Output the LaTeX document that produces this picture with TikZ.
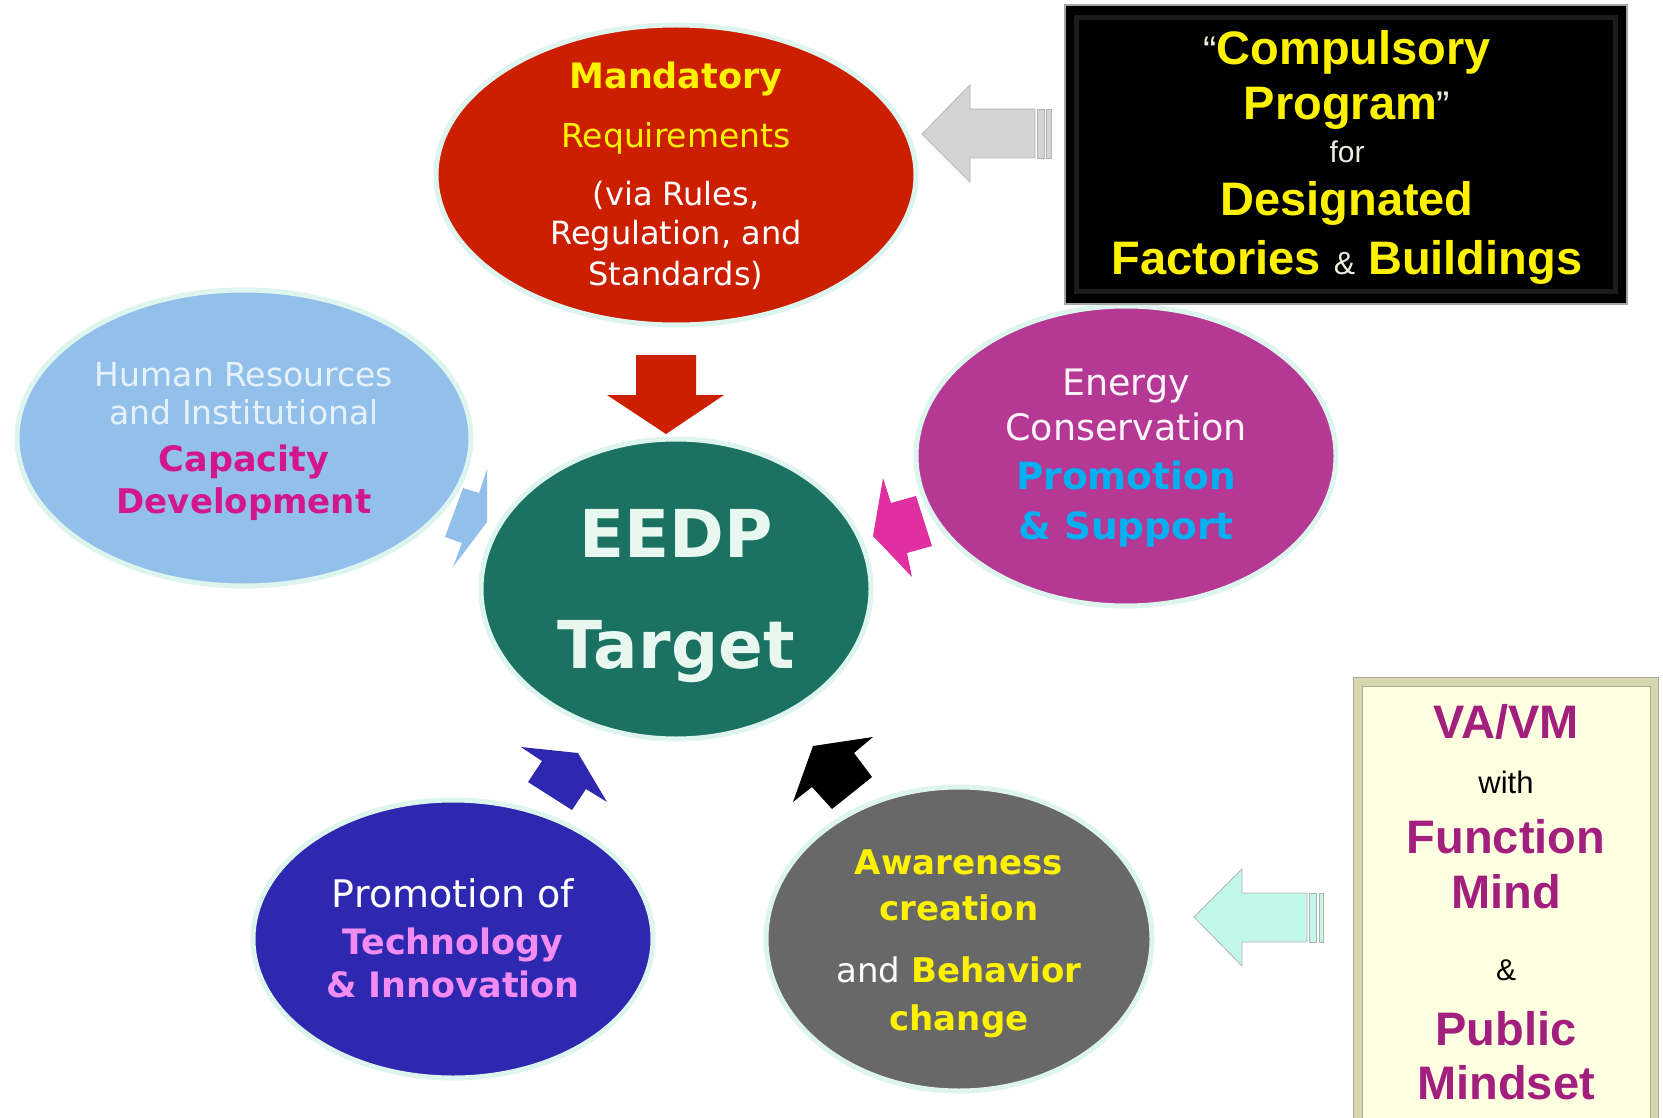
\documentclass[tikz,border=0pt]{standalone}
\usepackage{fontspec}
\setmainfont{DejaVu Sans}
\newfontfamily\arialfont{Liberation Sans}
\usetikzlibrary{shapes.geometric}

\definecolor{redfill}{HTML}{CC1F00}
\definecolor{tealfill}{HTML}{1C7262}
\definecolor{skyfill}{HTML}{92C0EA}
\definecolor{plumfill}{HTML}{B43894}
\definecolor{indigofill}{HTML}{2E28B0}
\definecolor{grayfill}{HTML}{686868}
\definecolor{mint}{HTML}{DDF5EE}
\definecolor{capcol}{HTML}{D4168C}
\definecolor{supcol}{HTML}{00B0F0}
\definecolor{techcol}{HTML}{F28CF2}
\definecolor{vacol}{HTML}{A21F7E}
\definecolor{cream}{HTML}{FEFEE0}
\definecolor{creamframe}{HTML}{D8D7B0}
\definecolor{arrowgray}{HTML}{D4D4D4}
\definecolor{arrowaqua}{HTML}{C2F8EA}
\definecolor{magarrow}{HTML}{E02FA0}
\definecolor{paletext}{HTML}{E6F2FA}
\definecolor{eedptext}{HTML}{E8F8F0}
\definecolor{quotecol}{HTML}{E8EEDC}

\newcommand{\fs}[1]{\fontsize{#1}{#1}\selectfont}

\begin{document}
\begin{tikzpicture}[x=1pt,y=-1pt,
  bubble/.style={ellipse, draw=mint, line width=5pt, inner sep=0pt},
  lbl/.style={anchor=base, inner sep=0pt},
  blockarrow/.style={draw=#1!85!black, line width=0.8pt, fill=#1},
]
\useasboundingbox (0,0) rectangle (1663,1118);

% ---- block arrows pointing into the centre ----
\fill[redfill] (636,355) -- (696,355) -- (696,395) -- (724,395) -- (666,434)
  -- (607,395) -- (636,395) -- cycle;
\fill[skyfill] (487,469) -- (487,522) -- (453,567) -- (462,543) -- (445,537)
  -- (463,488) -- (479,493) -- cycle;
\fill[magarrow] (883,478) -- (891,503) -- (916,496) -- (932,546) -- (907,553)
  -- (912,577) -- (873,536) -- cycle;
\fill[indigofill] (521,747) -- (578,753) -- (607,802) -- (586,789) -- (572,810)
  -- (528,782) -- (542,761) -- cycle;
\fill[black] (813,746) -- (873,737) -- (854,753) -- (872,777) -- (832,809)
  -- (812,787) -- (793,802) -- cycle;

% ---- striped arrows from the side boxes ----
\draw[blockarrow=arrowgray] (922,134) -- (970,85) -- (970,109) -- (1035,109)
  -- (1035,158) -- (970,158) -- (970,182) -- cycle;
\draw[blockarrow=arrowgray] (1037,109) rectangle (1044,158);
\draw[blockarrow=arrowgray] (1046,109) rectangle (1051,158);

\draw[blockarrow=arrowaqua, draw=gray!60] (1194,917) -- (1242,869) -- (1242,893) -- (1307,893)
  -- (1307,942) -- (1242,942) -- (1242,966) -- cycle;
\draw[blockarrow=arrowaqua, draw=gray!60] (1309,893) rectangle (1316,942);
\draw[blockarrow=arrowaqua, draw=gray!60] (1319,893) rectangle (1323,942);

% ---- ellipses ----
\node[bubble, fill=redfill, minimum width=480pt, minimum height=300pt] (mand) at (676,175) {};
\node[bubble, fill=tealfill, minimum width=390pt, minimum height=300pt] (eedp) at (676,589) {};
\node[bubble, fill=skyfill, minimum width=454pt, minimum height=296pt] (human) at (244,438) {};
\node[bubble, fill=plumfill, minimum width=420pt, minimum height=300pt] (energy) at (1126,456) {};
\node[bubble, fill=indigofill, minimum width=400pt, minimum height=278pt] (tech) at (453,939) {};
\node[bubble, fill=grayfill, minimum width=386pt, minimum height=304pt] (aware) at (959,939) {};

% ---- ellipse texts ----
\node[lbl, font=\fs{35}\bfseries, text=yellow] (m1) at (676,89) {Mandatory};
\node[lbl, font=\fs{33}, text=yellow] (m2) at (676,148) {Requirements};
\node[lbl, font=\fs{32}, text=white] (m3) at (676,206) {(via Rules,};
\node[lbl, font=\fs{32}, text=white] (m4) at (676,244) {Regulation, and};
\node[lbl, font=\fs{32}, text=white] (m5) at (676,285) {Standards)};

\node[lbl, font=\fs{66}\bfseries, text=eedptext] (e1) at (676,557) {EEDP};
\node[lbl, font=\fs{66}\bfseries, text=eedptext] (e2) at (676,668) {Target};

\node[lbl, font=\fs{33}, text=paletext] (h1) at (244,386) {Human Resources};
\node[lbl, font=\fs{33}, text=paletext] (h2) at (244,424) {and Institutional};
\node[lbl, font=\fs{35}\bfseries, text=capcol] (h3) at (244,471) {Capacity};
\node[lbl, font=\fs{34}\bfseries, text=capcol] (h4) at (244,513) {Development};

\node[lbl, font=\fs{36.5}, text=white!94!plumfill] (c1) at (1126,395) {Energy};
\node[lbl, font=\fs{36.5}, text=white!94!plumfill] (c2) at (1126,440) {Conservation};
\node[lbl, font=\fs{37.5}\bfseries, text=supcol] (c3) at (1126,489) {Promotion};
\node[lbl, font=\fs{37.5}\bfseries, text=supcol] (c4) at (1126,539) {\& Support};

\node[lbl, font=\fs{38}, text=white] (t1) at (453,907) {Promotion of};
\node[lbl, font=\fs{35}\bfseries, text=techcol] (t2) at (453,954) {Technology};
\node[lbl, font=\fs{35}\bfseries, text=techcol] (t3) at (453,997) {\& Innovation};

\node[lbl, font=\fs{34}\bfseries, text=yellow] (a1) at (959,874) {Awareness};
\node[lbl, font=\fs{34}\bfseries, text=yellow] (a2) at (959,920) {creation};
\node[lbl, font=\fs{34}] (a3) at (959,982) {\textcolor{white}{and} \textcolor{yellow}{\bfseries Behavior}};
\node[lbl, font=\fs{34}\bfseries, text=yellow] (a4) at (959,1030) {change};

% ---- compulsory programme box ----
\node[draw=gray!70, line width=1.2pt, fill=black, minimum width=562pt, minimum height=299pt,
  inner sep=0pt] (comp) at (1346,154.5) {};
\draw[gray!22!black, line width=5pt] ([xshift=12pt,yshift=-13pt]comp.north west)
  rectangle ([xshift=-12pt,yshift=13pt]comp.south east);
\node[lbl, font=\arialfont\fs{47}\bfseries, text=yellow] (b1) at (1347,65)
  {{\fs{40}\mdseries\textcolor{quotecol}{“}}Compulsory};
\node[lbl, font=\arialfont\fs{47}\bfseries, text=yellow] (b2) at (1347,120)
  {Program{\fs{40}\mdseries\textcolor{quotecol}{”}}};
\node[lbl, font=\arialfont\fs{30}, text=quotecol] (b3) at (1347,163) {for};
\node[lbl, font=\arialfont\fs{47}\bfseries, text=yellow] (b4) at (1347,216) {Designated};
\node[lbl, font=\arialfont\fs{47}\bfseries, text=yellow] (b5) at (1347,275)
  {Factories {\fs{32}\mdseries\textcolor{quotecol}{\&}} Buildings};

% ---- VA/VM box ----
\node[draw=gray!55!creamframe, line width=1pt, fill=creamframe, minimum width=305pt,
  minimum height=452pt, inner sep=0pt, anchor=north west] (vavm) at (1353,677) {};
\draw[creamframe!80!black, line width=0.8pt, fill=cream] ([xshift=9pt,yshift=-9pt]vavm.north west)
  rectangle ([xshift=-9pt,yshift=9pt]vavm.south east);
\node[lbl, font=\arialfont\fs{47}\bfseries, text=vacol] (v1) at (1506,738) {VA/VM};
\node[lbl, font=\arialfont\fs{31}, text=black] (v2) at (1506,793) {with};
\node[lbl, font=\arialfont\fs{47}\bfseries, text=vacol] (v3) at (1506,853) {Function};
\node[lbl, font=\arialfont\fs{47}\bfseries, text=vacol] (v4) at (1506,908) {Mind};
\node[lbl, font=\arialfont\fs{30}, text=black] (v5) at (1506,980) {\&};
\node[lbl, font=\arialfont\fs{47}\bfseries, text=vacol] (v6) at (1506,1045) {Public};
\node[lbl, font=\arialfont\fs{47}\bfseries, text=vacol] (v7) at (1506,1099) {Mindset};
\end{tikzpicture}
\end{document}
